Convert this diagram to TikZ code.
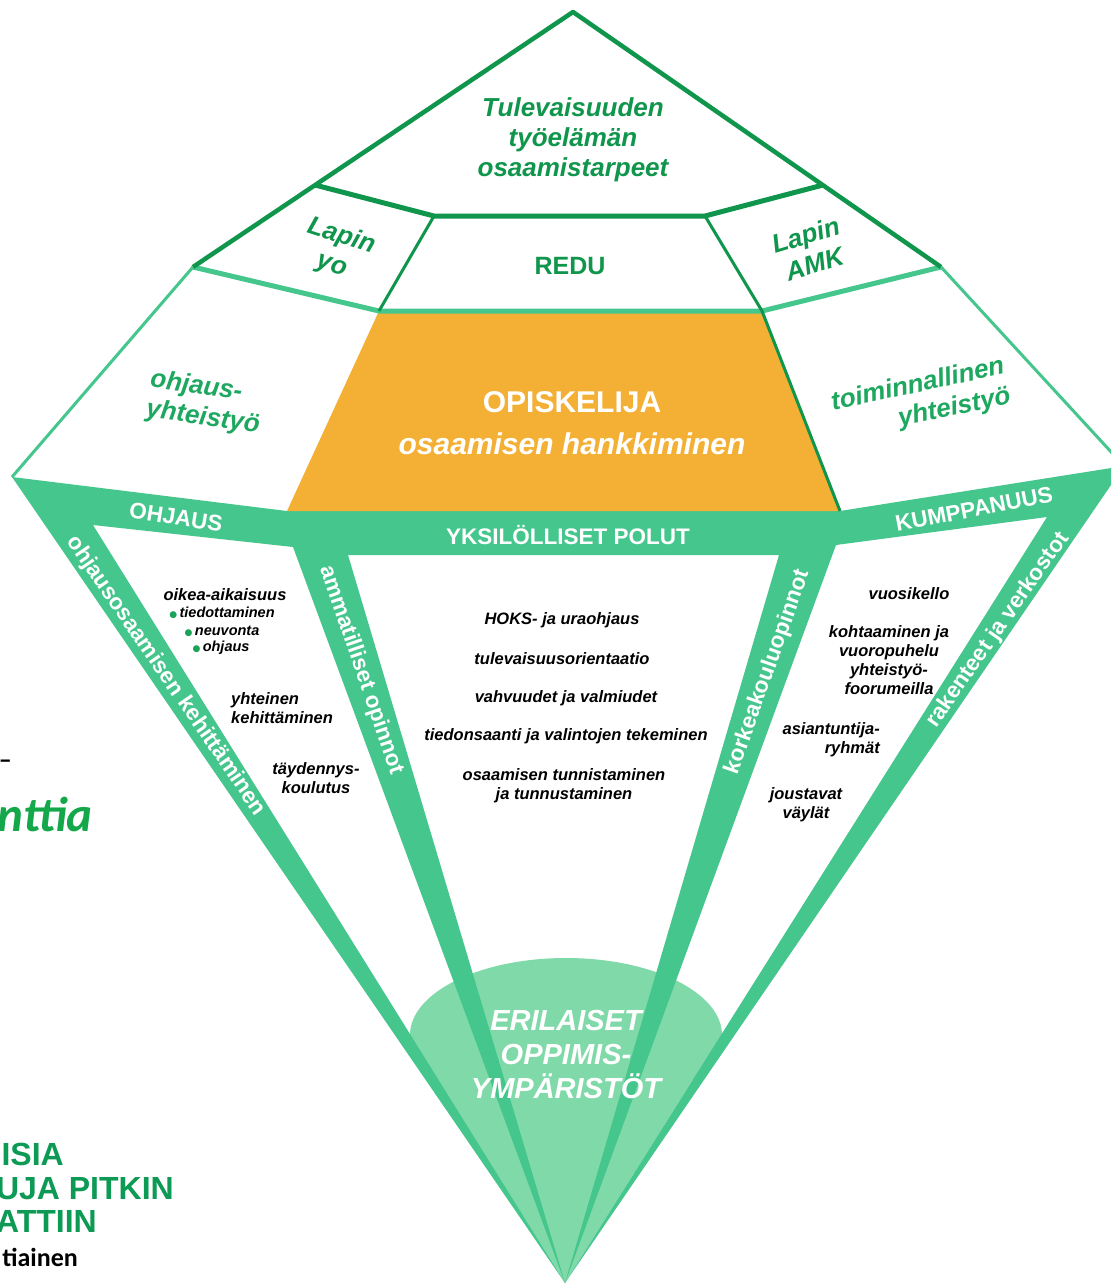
\documentclass[tikz,border=0pt]{standalone}
\usepackage{fontspec}
\setmainfont{Liberation Sans}
\newfontfamily\carlito{Carlito}
\newfontfamily\dejavu{DejaVu Sans}
\definecolor{darkgreen}{RGB}{16,150,76}
\definecolor{midgreen}{RGB}{30,168,95}
\definecolor{bandgreen}{RGB}{69,198,141}
\definecolor{domegreen}{RGB}{128,217,168}
\definecolor{studentorange}{RGB}{244,176,53}
\definecolor{logogreen}{RGB}{12,154,84}
\definecolor{brightgreen}{RGB}{20,168,75}
\definecolor{bulletgreen}{RGB}{27,163,90}

\begin{document}
\begin{tikzpicture}[x=1pt, y=-1pt,
title/.style={text=darkgreen, align=center, font=\fontsize{26}{30}\selectfont\bfseries\itshape},
bandtext/.style={text=white, font=\fontsize{22.5}{26}\selectfont\bfseries},
note/.style={align=center, font=\fontsize{16.5}{19}\selectfont\bfseries\itshape},
bullet/.style={font=\fontsize{14.5}{17}\selectfont\bfseries\itshape},
fragment/.style={anchor=base east, inner sep=0pt},
logo/.style={fragment, text=logogreen, font=\fontsize{32}{34}\selectfont\bfseries},
band/.style={fill=bandgreen}
]
\useasboundingbox (0,0) rectangle (1111,1285);
\clip (0,0) rectangle (1111,1285);
\fill[white] (0,0) rectangle (1111,1285);

\coordinate (top) at (573,12);
\coordinate (bottom) at (565,1283);
\coordinate (ul) at (193,267);
\coordinate (ur) at (941,267);
\coordinate (tl) at (12,477);
\coordinate (tr) at (1124,466);
\coordinate (tbl) at (315,185);
\coordinate (tbr) at (823,185);
\coordinate (rl) at (434,216);
\coordinate (rr) at (705,216);
\coordinate (ol) at (379,311);
\coordinate (or) at (762,311);
\coordinate (obl) at (287,511);
\coordinate (obr) at (840,511);
\coordinate (a1) at (93,525);
\coordinate (a2) at (293,547);
\coordinate (a3) at (348,555);
\coordinate (a4) at (779,555);
\coordinate (a5) at (836,545);
\coordinate (a6) at (1047,517);

% learning environments
\fill[domegreen] (566,1035) ellipse [x radius=156, y radius=77]
  (410,1035) -- (721,1035) -- (bottom) -- cycle;

% green frame
\fill[band] (tl) -- (obl) -- (obr) -- (tr) -- (a6) -- (a5) -- (a4) -- (a3) -- (a2) -- (a1) -- cycle
  (tl) -- (a1) -- (bottom) -- cycle
  (a2) -- (a3) -- (bottom) -- cycle
  (a4) -- (a5) -- (bottom) -- cycle
  (a6) -- (tr) -- (bottom) -- cycle;

\fill[studentorange] (ol) -- (or) -- (obr) -- (obl) -- cycle;

\draw[bandgreen, line width=3] (ul) -- (tl) (ur) -- (tr);
\draw[bandgreen, line width=5] (ul) -- (ol) -- (or) -- (ur);
\draw[darkgreen, line width=3] (rl) -- (ol) (rr) -- (or) -- (obr);
\draw[darkgreen, line width=5] (tbl) -- (rl) -- (rr) -- (tbr);
\draw[darkgreen, line width=4.5, line join=round] (ul) -- (top) -- (ur);

% upper part
\node[title] (future) at (573,140) {Tulevaisuuden\\työelämän\\osaamistarpeet};
\node[title, rotate=-18] (lapinyo) at (337,251) {Lapin\\yo};
\node[title, rotate=17] (lapinamk) at (810,249) {Lapin\\AMK};
\node[title, font=\fontsize{25}{30}\selectfont\bfseries] (redu) at (570,266) {REDU};
\node[title, text=midgreen, align=left, rotate=-8] (ohjyht) at (205,403) {ohjaus-\\yhteistyö};
\node[title, text=midgreen, align=right, rotate=12] (toimyht) at (921,400) {toiminnallinen\\yhteistyö};
\node[text=white, font=\fontsize{30}{34}\selectfont\bfseries] (student) at (572,402) {OPISKELIJA};
\node[text=white, font=\fontsize{30}{34}\selectfont\bfseries\itshape] (hankinta) at (572,444) {osaamisen hankkiminen};

% bands
\node[bandtext, rotate=-9] (ohjaus) at (176,517) {OHJAUS};
\node[bandtext] (polut) at (568,535) {YKSILÖLLISET POLUT};
\node[bandtext, rotate=11] (kumppanuus) at (974,509) {KUMPPANUUS};
\node[bandtext, rotate=-55.5] (kehitys) at (166,676) {ohjausosaamisen kehittäminen};
\node[bandtext, rotate=-71] (ammat) at (361,670) {ammatilliset opinnot};
\node[bandtext, rotate=70.5] (korkea) at (768,672) {korkeakouluopinnot};
\node[bandtext, rotate=55] (rakenteet) at (998,630) {rakenteet ja verkostot};
\node[text=white, align=center, font=\fontsize{29}{34}\selectfont\bfseries\itshape] (erilaiset) at (566,1055) {ERILAISET\\OPPIMIS-\\YMPÄRISTÖT};

% left field
\node[note] (oikea) at (225,595) {oikea-aikaisuus};
\node[bullet] (tiedotus) at (222,613) {\textcolor{bulletgreen}{\dejavu\fontsize{9}{9}\selectfont ●}\,tiedottaminen};
\node[bullet] (neuvonta) at (222,631) {\textcolor{bulletgreen}{\dejavu\fontsize{9}{9}\selectfont ●}\,neuvonta};
\node[bullet] (ohjauspiste) at (221,648) {\textcolor{bulletgreen}{\dejavu\fontsize{9}{9}\selectfont ●}\,ohjaus};
\node[note, align=left, anchor=west, inner sep=0pt] (yhteinen) at (231,708) {yhteinen\\kehittäminen};
\node[note] (taydennys) at (316,778) {täydennys-\\koulutus};

% middle field
\node[note] (hoks) at (562,620) {HOKS- ja uraohjaus};
\node[note] (tulevaisuus) at (562,659) {tulevaisuusorientaatio};
\node[note] (vahvuudet) at (566,698) {vahvuudet ja valmiudet};
\node[note] (tiedonsaanti) at (566,736) {tiedonsaanti ja valintojen tekeminen};
\node[note] (tunnistus) at (564,786) {osaamisen tunnistaminen\\ja tunnustaminen};

% right field
\node[note] (vuosikello) at (909,594) {vuosikello};
\node[note] (kohtaaminen) at (889,660) {kohtaaminen ja\\vuoropuhelu\\yhteistyö-\\foorumeilla};
\node[note, align=right, anchor=east, inner sep=0pt] (asiantuntija) at (880,740) {asiantuntija-\\ryhmät};
\node[note] (joustavat) at (806,805) {joustavat\\väylät};

% page fragments at the left edge
\node[fragment, font=\carlito\fontsize{26}{30}\selectfont\bfseries] (dash) at (12,768) {–};
\node[fragment, text=brightgreen, font=\carlito\fontsize{49}{52}\selectfont\bfseries\itshape] (nttia) at (93,831) {nttia};
\node[logo] (isia) at (64,1165) {ISIA};
\node[logo] (pitkin) at (174,1199) {UJA PITKIN};
\node[logo] (attiin) at (97,1232) {ATTIIN};
\node[fragment, font=\carlito\fontsize{26}{28}\selectfont\bfseries] (tiainen) at (78,1266) {tiainen};
\end{tikzpicture}
\end{document}
